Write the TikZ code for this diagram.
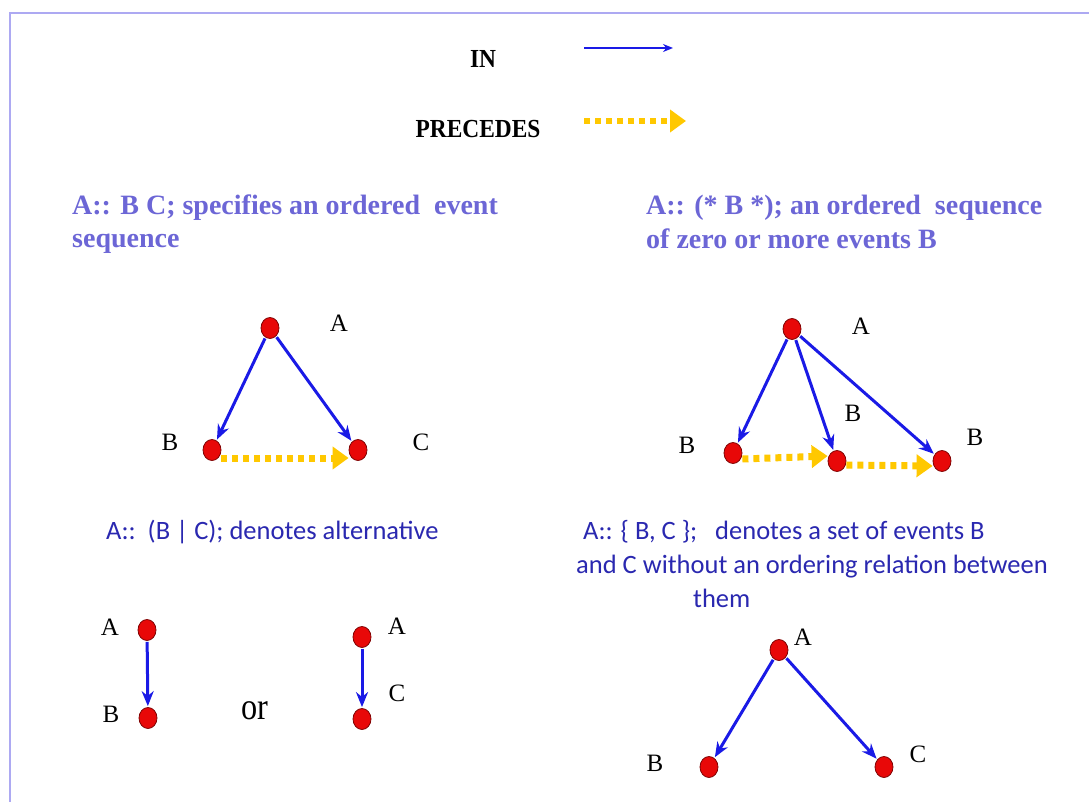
\documentclass[tikz,border=0pt]{standalone}
\usepackage{fontspec}
\setmainfont{Liberation Serif}
\newfontfamily\calib{Carlito}
\newfontfamily\tnrb{Liberation Serif Bold}
\usetikzlibrary{arrows.meta,shapes.geometric}
\definecolor{inblue}{HTML}{1A1AE6}
\definecolor{gold}{HTML}{FFC800}
\definecolor{evred}{HTML}{E80808}
\definecolor{titlecol}{HTML}{6C66D6}
\definecolor{sanscol}{HTML}{2A28B0}
\definecolor{framecol}{HTML}{ADA9F2}
\tikzset{
  ev/.style={ellipse, minimum width=18pt, minimum height=21pt, inner sep=0pt, fill=evred, draw=evred!55!black, line width=0.8pt},
  inarr/.style={draw=inblue, line width=3pt, -{Stealth[length=15pt,width=12pt]}, shorten >=1pt, shorten <=1pt},
  prec/.style={draw=gold, line width=7pt, dash pattern=on 6pt off 5pt, -{Triangle[length=16pt,width=22pt]}},
  lab/.style={font=\fontsize{25}{28}\selectfont, text=black, inner sep=0pt},
  ttl/.style={font=\tnrb\fontsize{28}{32}\selectfont, text=titlecol, anchor=base west, inner sep=0pt},
  sns/.style={font=\calib\fontsize{26.5}{30}\selectfont, text=sanscol, anchor=base west, inner sep=0pt},
  leg/.style={font=\tnrb\fontsize{26}{30}\selectfont, text=black, inner sep=0pt, xscale=0.9}
}
\begin{document}
\begin{tikzpicture}[x=1pt,y=-1pt]
\useasboundingbox (0,0) rectangle (1089,802);
\fill[white] (0,0) rectangle (1089,802);
% frame
\draw[framecol, line width=2pt] (10,802) -- (10,13) -- (1089,13);
% legend
\node[leg] (inlab) at (483,59) {IN};
\coordinate (in1) at (583,48);
\coordinate (in2) at (674,48);
\draw[inarr, line width=2pt, -{Stealth[length=10pt,width=8pt]}] (in1) -- (in2);
\node[leg] (preclab) at (478,129) {PRECEDES};
\coordinate (p1) at (584,121);
\coordinate (p2) at (686,121);
\draw[prec, line width=6pt] (p1) -- (p2);
% titles
\node[ttl] (t1a) at (72,215) {A:: B C; specifies an ordered\ \ event};
\node[ttl] (t1b) at (72,248) {sequence};
\node[ttl] (t2a) at (646,215) {A:: (* B *); an ordered\ \ sequence};
\node[ttl] (t2b) at (646,249) {of zero or more events B};
% diagram 1
\node[ev] (a1) at (270,328) {};
\node[ev] (b1) at (212,450) {};
\node[ev] (c1) at (358,450) {};
\node[lab] (la1) at (339,323) {A};
\node[lab] (lb1) at (170,442) {B};
\node[lab] (lc1) at (421,442) {C};
\draw[inarr] (a1) -- (b1);
\draw[inarr] (a1) -- (c1);
\draw[prec] ([yshift=-8pt]b1.east) -- ([yshift=-8pt]c1.west);
% diagram 2
\node[ev] (a2) at (792,329) {};
\node[ev] (b21) at (733,453) {};
\node[ev] (b22) at (837,461) {};
\node[ev] (b23) at (942,461) {};
\node[lab] (la2) at (861,326) {A};
\node[lab] (lb21) at (687,445) {B};
\node[lab] (lb22) at (853,413) {B};
\node[lab] (lb23) at (975,437) {B};
\draw[inarr] (a2) -- (b21);
\draw[inarr] (a2) -- (b22);
\draw[inarr] (a2) -- (b23);
\draw[prec] ([yshift=-6pt]b21.east) -- ([yshift=5pt]b22.west);
\draw[prec] ([yshift=-4pt]b22.east) -- ([yshift=-5pt]b23.west);
% alternative
\node[sns] (t3) at (106,539) {A::\ \ (B | C); denotes alternative};
\node[ev] (a3) at (147,630) {};
\node[ev] (b3) at (148,718) {};
\node[lab] (la3) at (110,627) {A};
\node[lab] (lb3) at (111,714) {B};
\draw[inarr] (a3) -- (b3);
\node[font=\fontsize{38}{42}\selectfont, inner sep=0pt, xscale=0.85] (or) at (255,711) {or};
\node[ev] (a4) at (362,637) {};
\node[ev] (c4) at (362,719) {};
\node[lab] (la4) at (397,626) {A};
\node[lab] (lc4) at (397,693) {C};
\draw[inarr] (a4) -- (c4);
% set
\node[sns] (t4a) at (583,539) {A:: \{ B, C \};\ \ \ denotes a set of events B};
\node[sns] (t4b) at (576,573) {and C without an ordering relation between};
\node[sns] (t4c) at (693,607) {them};
\node[ev] (a5) at (779,650) {};
\node[ev] (b5) at (709,767) {};
\node[ev] (c5) at (884,767) {};
\node[lab] (la5) at (803,637) {A};
\node[lab] (lb5) at (655,763) {B};
\node[lab] (lc5) at (918,754) {C};
\draw[inarr] (a5) -- (b5);
\draw[inarr] (a5) -- (c5);
\end{tikzpicture}
\end{document}
